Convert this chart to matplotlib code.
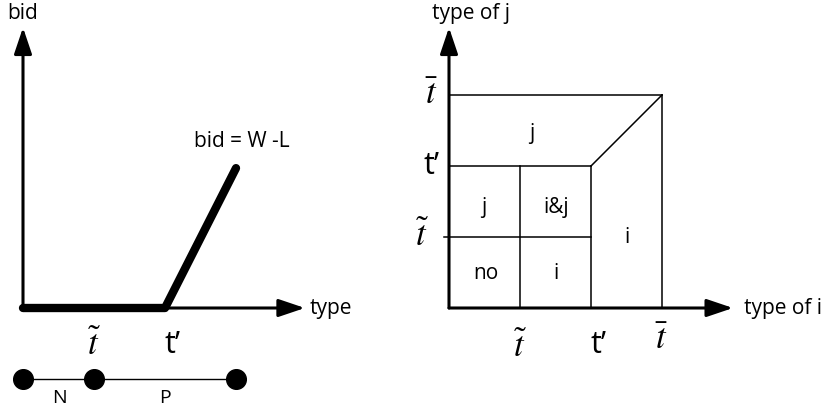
import matplotlib.pyplot as plt

plt.rcParams['font.family'] = ['Open Sans', 'DejaVu Sans']
plt.rcParams['mathtext.fontset'] = 'stix'

# type values (t~ = 1, t' = 2, t-bar = 3)
t_tilde, t_prime, t_bar = 1, 2, 3

# left panel: bid function
bid_type = [0, t_prime, 3]
bid_value = [0, 0, 1.97]
seg_dots = [0, t_tilde, 3]
seg_labels = ['N', 'P']
seg_label_x = [0.52, 2.0]

# right panel: regions (x = type of i, y = type of j)
region_labels = ['j', 'j', 'i&j', 'no', 'i', 'i']
region_x = [1.17, 0.49, 1.51, 0.52, 1.51, 2.51]
region_y = [2.46, 1.42, 1.42, 0.49, 0.49, 1.0]

# boundary segments of the regions
seg_x = [[0, t_bar], [t_bar, t_bar], [t_prime, t_bar], [0, t_prime],
         [t_prime, t_prime], [-0.07, t_prime], [t_tilde, t_tilde]]
seg_y = [[t_bar, t_bar], [0, t_bar], [t_prime, t_bar], [t_prime, t_prime],
         [0, t_prime], [t_tilde, t_tilde], [0, t_prime]]

RX = 6.0  # horizontal offset of right panel
FS = 15
MS = 25  # size of the math symbols

fig = plt.figure(figsize=(8.23, 4.11), dpi=100)
ax = fig.add_axes([0, 0, 1, 1])
ax.set_xlim(-23 / 71, 800 / 71)
ax.set_ylim(-103 / 71, 308 / 71)
ax.axis('off')

arrow = dict(arrowstyle='-|>,head_length=0.8,head_width=0.27', lw=2.2,
             color='k', mutation_scale=20, shrinkA=0, shrinkB=0)


def axes_arrows(x0, xtip, ytip):
    ax.annotate('', xy=(xtip, 0), xytext=(x0, 0), arrowprops=arrow)
    ax.annotate('', xy=(x0, ytip), xytext=(x0, 0), arrowprops=arrow)


# ---- left panel
axes_arrows(0, 3.97, 3.95)
ax.plot(bid_type, bid_value, color='k', lw=6, solid_capstyle='round',
        solid_joinstyle='round')
ax.text(0, 4.15, 'bid', fontsize=FS, ha='center', va='center')
ax.text(4.04, 0, 'type', fontsize=FS, ha='left', va='center')
ax.text(3.08, 2.35, 'bid = W -L', fontsize=FS, ha='center', va='center')
ax.text(t_tilde, -0.53, r'$\tilde{t}$', fontsize=MS, ha='center', va='center')
ax.text(2.1, -0.52, 't\u2019', fontsize=22, ha='center', va='center')

ax.plot([seg_dots[0], seg_dots[-1]], [-1, -1], color='k', lw=1)
ax.scatter(seg_dots, [-1] * len(seg_dots), s=200, color='k', zorder=3)
for lab, lx in zip(seg_labels, seg_label_x):
    ax.text(lx, -1.27, lab, fontsize=14, ha='center', va='center')

# ---- right panel
for xs, ys in zip(seg_x, seg_y):
    ax.plot([RX + v for v in xs], ys, color='k', lw=1.1)
axes_arrows(RX, RX + 4.0, 3.95)
ax.text(RX + 0.31, 4.15, 'type of j', fontsize=FS, ha='center', va='center')
ax.text(RX + 4.15, 0, 'type of i', fontsize=FS, ha='left', va='center')
for lab, lx, ly in zip(region_labels, region_x, region_y):
    ax.text(RX + lx, ly, lab, fontsize=FS, ha='center', va='center')

ax.text(RX + t_tilde, -0.56, r'$\tilde{t}$', fontsize=MS, ha='center', va='center')
ax.text(RX + 2.1, -0.52, 't\u2019', fontsize=22, ha='center', va='center')
ax.text(RX + t_bar, -0.45, r'$\bar{t}$', fontsize=MS, ha='center', va='center')
ax.text(RX - 0.24, t_bar, r'$\bar{t}$', fontsize=MS, ha='center', va='center')
ax.text(RX - 0.24, t_prime, 't\u2019', fontsize=22, ha='center', va='center')
ax.text(RX - 0.38, t_tilde, r'$\tilde{t}$', fontsize=MS, ha='center', va='center')

fig.savefig('out.png', dpi=100)
